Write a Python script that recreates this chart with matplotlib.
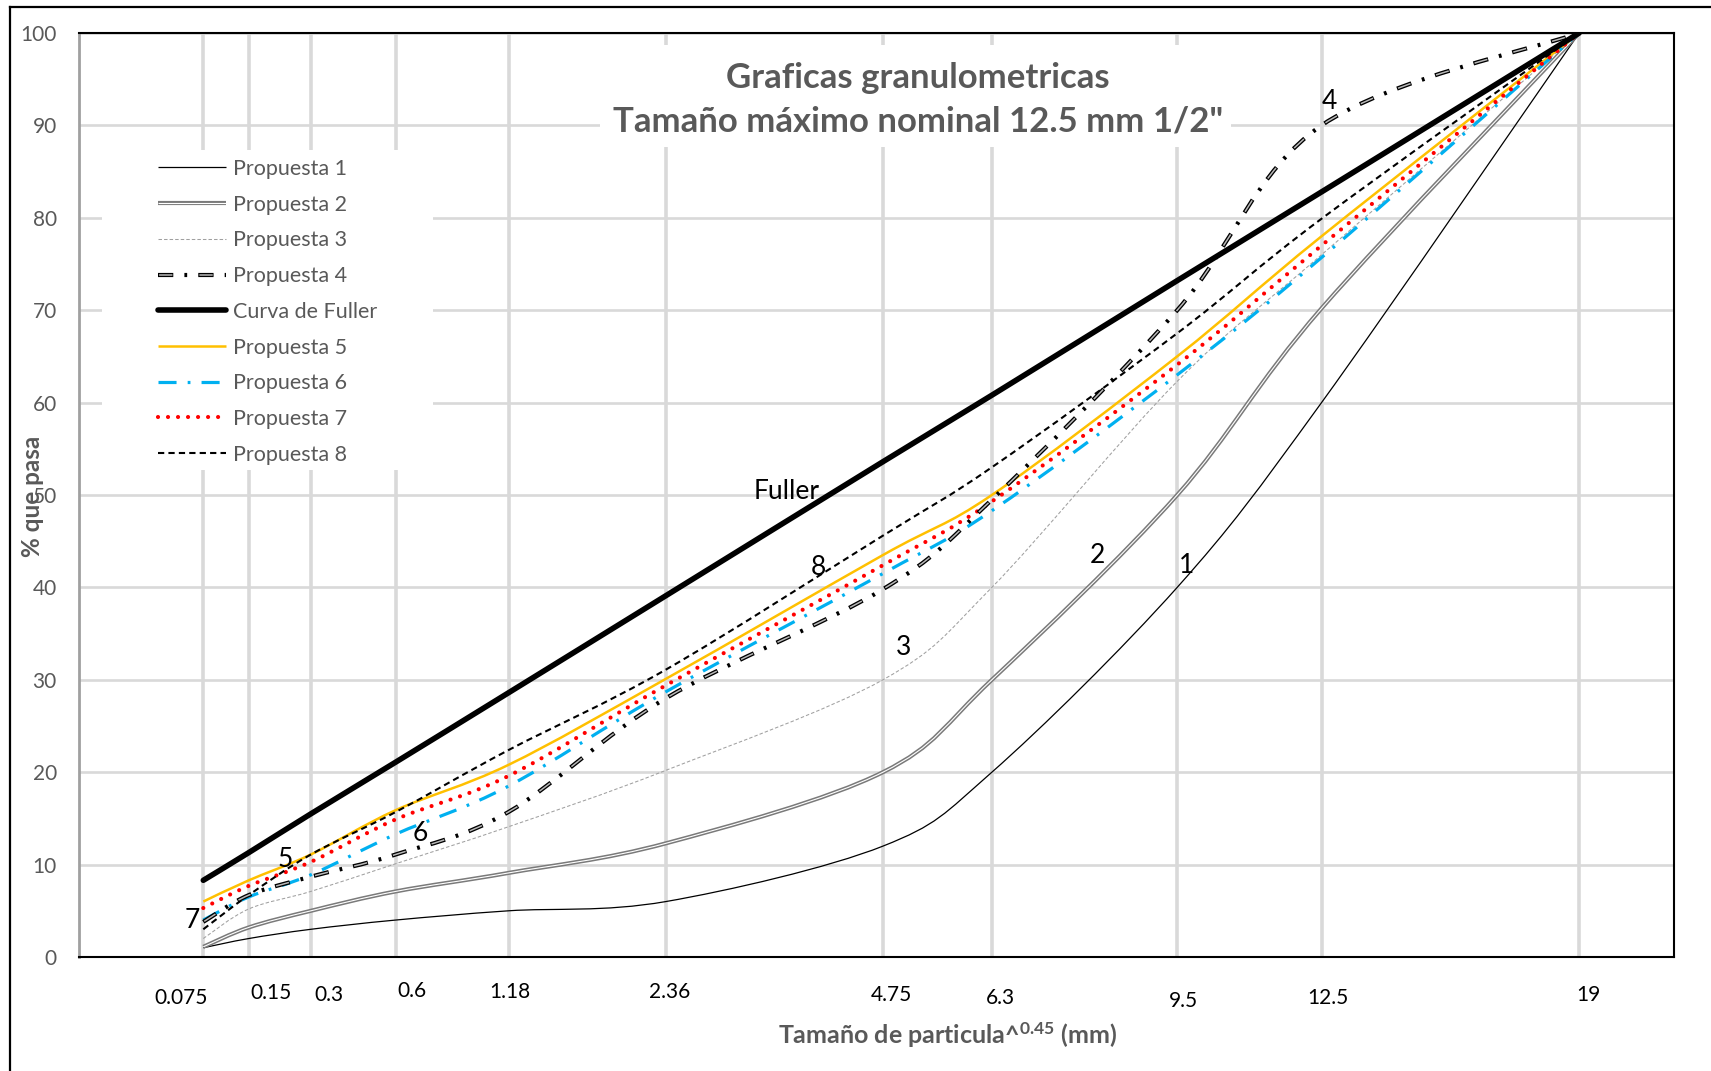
import numpy as np
import matplotlib
matplotlib.use("Agg")
import matplotlib.pyplot as plt
from matplotlib.path import Path
from matplotlib.patches import PathPatch, Rectangle
from matplotlib.lines import Line2D
import matplotlib.patheffects as pe

plt.rcParams['font.family'] = ['Lato', 'DejaVu Sans']
plt.rcParams['lines.scale_dashes'] = False

# abertura de tamices (mm) y sus etiquetas
tamices = [0.075, 0.15, 0.3, 0.6, 1.18, 2.36, 4.75, 6.3, 9.5, 12.5, 19]
tamiz_labels = ["0.075", "0.15", "0.3", "0.6", "1.18", "2.36", "4.75", "6.3", "9.5", "12.5", "19"]

# % que pasa de cada propuesta
propuesta_1 = [1.0, 2.0, 3.0, 4.0, 5.0, 6.0, 12.0, 20.0, 40.0, 60.0, 100]
propuesta_2 = [1.1, 3.2, 5.0, 7.1, 9.1, 12.3, 20.0, 30.0, 50.0, 70.2, 100]
propuesta_3 = [2.0, 5.2, 7.1, 10.1, 14.1, 20.2, 30.0, 40.0, 62.3, 76.0, 100]
propuesta_4 = [3.8, 6.7, 8.7, 11.1, 15.7, 28.0, 39.8, 49.5, 70.0, 90.0, 100]
fuller = [8.3, 11.3, 15.5, 21.1, 28.6, 39.1, 53.6, 60.8, 73.2, 82.8, 100]
propuesta_5 = [6.0, 8.3, 11.1, 15.9, 20.8, 30.1, 43.5, 50.0, 65.0, 78.0, 100]
propuesta_6 = [4.0, 6.5, 8.9, 13.3, 18.5, 28.7, 41.5, 48.3, 63.0, 75.7, 100]
propuesta_7 = [5.3, 7.7, 10.3, 14.9, 19.6, 29.4, 42.4, 49.3, 64.1, 77.0, 100]
propuesta_8 = [3.0, 6.7, 11.1, 15.7, 22.4, 31.1, 45.6, 53.0, 67.5, 79.9, 100]

# etiquetas sobre las curvas (x en mm^0.45, y en %)
rotulos = ["Fuller", "8", "3", "2", "1", "4", "5", "6", "7"]
rotulos_x = [1.774, 1.854, 2.067, 2.555, 2.777, 3.135, 0.517, 0.857, 0.285]
rotulos_y = [50.4, 42.2, 33.5, 43.5, 42.4, 92.6, 10.6, 13.4, 4.0]

# corrimiento de las etiquetas del eje x (px)
ajuste_x_px = [-22, 22, 18, 16, 1, 4, 8, 9, 6, 6, 9]
ajuste_y_px = [41, 36, 38, 34, 35, 35, 38, 41, 44, 41, 38]

GRIS = '#595959'
PX = 72 / 100  # puntos por pixel


def ruta_suave(x, y):
    # curva suavizada tipo Excel (bezier)
    pts = np.column_stack([x, y])
    n = len(pts)
    verts = [pts[0]]
    codes = [Path.MOVETO]
    for i in range(n - 1):
        p0 = pts[max(i - 1, 0)]
        p1 = pts[i]
        p2 = pts[i + 1]
        p3 = pts[min(i + 2, n - 1)]
        verts += [p1 + (p2 - p0) / 6, p2 - (p3 - p1) / 6, p2]
        codes += [Path.CURVE4] * 3
    return Path(verts, codes)


x = np.array(tamices) ** 0.45

fig = plt.figure(figsize=(17.11, 10.71), dpi=100)
ax = fig.add_axes([79 / 1711, 1 - 957 / 1071, 1595 / 1711, 924 / 1071])
ax.set_xlim(0, 4)
ax.set_ylim(0, 100)

estilos = {
    'p1': dict(edgecolor='black', lw=0.9),
    'p2': dict(edgecolor='white', lw=0.8,
               path_effects=[pe.Stroke(linewidth=3.0, foreground='#7a7a7a'), pe.Normal()]),
    'p3': dict(edgecolor='#a0a0a0', lw=0.75, linestyle=(0, (2.5, 1.5))),
    'p4a': dict(edgecolor='black', lw=3.0, linestyle=(0, (11, 8, 2, 8)), capstyle='butt'),
    'p4b': dict(edgecolor='#b8b8b8', lw=1.1, linestyle=(28.2, (9.6, 19.4)), capstyle='butt'),
    'fuller': dict(edgecolor='black', lw=4.0, capstyle='round'),
    'p5': dict(edgecolor='#FFC000', lw=1.8),
    'p6': dict(edgecolor='#00B0F0', lw=2.3, linestyle=(0, (13, 8, 2, 8)), capstyle='butt'),
    'p7': dict(edgecolor='#FF0000', lw=3.0, linestyle=(0, (0.01, 7.2)), capstyle='round'),
    'p8': dict(edgecolor='black', lw=1.5, linestyle=(0, (4.5, 3))),
}

series = [
    (propuesta_1, ['p1']),
    (propuesta_2, ['p2']),
    (propuesta_3, ['p3']),
    (propuesta_5, ['p5']),
    (propuesta_6, ['p6']),
    (propuesta_7, ['p7']),
    (propuesta_8, ['p8']),
    (propuesta_4, ['p4a', 'p4b']),
    (fuller, ['fuller']),
]
for valores, claves in series:
    ruta = ruta_suave(x, np.array(valores, dtype=float))
    for k in claves:
        ax.add_patch(PathPatch(ruta, fill=False, zorder=2, **estilos[k]))

# rejilla
ax.set_xticks(x)
ax.set_xticklabels([])
ax.set_yticks(np.arange(0, 101, 10))
ax.set_axisbelow(True)
ax.xaxis.grid(True, color='#d9d9d9', lw=2.6)
ax.yaxis.grid(True, color='#d9d9d9', lw=1.9)
ax.tick_params(axis='both', length=0)
ax.tick_params(axis='y', labelsize=15, labelcolor=GRIS, pad=16)

for s in ['top', 'right', 'bottom']:
    ax.spines[s].set_color('black')
    ax.spines[s].set_linewidth(1.5)
ax.spines['left'].set_color('#a0a0a0')
ax.spines['left'].set_linewidth(2)

# cajas blancas de leyenda y titulo
ax.add_patch(Rectangle((0.0144, 0.527), 0.2075, 0.3463, transform=ax.transAxes,
                       facecolor='white', edgecolor='none', zorder=0.8))
ax.add_patch(Rectangle((0.3266, 0.8766), 0.3956, 0.1104, transform=ax.transAxes,
                       facecolor='white', edgecolor='none', zorder=0.8))

# etiquetas del eje x
for xi, lab, dx, dy in zip(x, tamiz_labels, ajuste_x_px, ajuste_y_px):
    ax.annotate(lab, xy=(xi, 0), xycoords=('data', 'axes fraction'),
                xytext=(dx * PX, -dy * PX), textcoords='offset points',
                ha='center', va='center', fontsize=15, color='black',
                annotation_clip=False)

# rotulos de curvas
for t, rx, ry in zip(rotulos, rotulos_x, rotulos_y):
    ax.text(rx, ry, t, ha='center', va='center', fontsize=19, color='black', zorder=3)

# titulo
ax.text(0.5262, 0.9517, "Graficas granulometricas", transform=ax.transAxes,
        ha='center', va='center', fontsize=25, fontweight='bold', color=GRIS, zorder=3)
ax.text(0.5262, 0.9040, "Tamaño máximo nominal 12.5 mm 1/2\"", transform=ax.transAxes,
        ha='center', va='center', fontsize=25, fontweight='bold', color=GRIS, zorder=3)

# ejes
fig.text(33 / 1711, 1 - 496 / 1071, "% que pasa", rotation=90, ha='center', va='center',
         fontsize=17.5, fontweight='bold', color=GRIS)
fig.text(948 / 1711, 1 - 1035 / 1071, r"Tamaño de particula^$\mathregular{^{0.45}}$ (mm)",
         ha='center', va='center', fontsize=18, fontweight='bold', color=GRIS)


# leyenda
def proxy(k):
    e = dict(estilos[k])
    color = e.pop('edgecolor')
    lw = e.pop('lw')
    ls = e.pop('linestyle', '-')
    cap = e.pop('capstyle', 'butt')
    l = Line2D([], [], color=color, lw=lw, linestyle=ls,
               path_effects=e.get('path_effects'))
    l.set_dash_capstyle(cap)
    l.set_solid_capstyle(cap)
    return l


handles = [proxy('p1'), proxy('p2'), proxy('p3'), (proxy('p4a'), proxy('p4b')),
           proxy('fuller'), proxy('p5'), proxy('p6'), proxy('p7'), proxy('p8')]
labels = ["Propuesta 1", "Propuesta 2", "Propuesta 3", "Propuesta 4", "Curva de Fuller",
          "Propuesta 5", "Propuesta 6", "Propuesta 7", "Propuesta 8"]
leg = fig.legend(handles, labels, loc='upper left', bbox_to_anchor=(158 / 1711, 1 - 159 / 1071),
                 frameon=False, fontsize=15.5, handlelength=3.15, handletextpad=0.32,
                 labelspacing=0.73, borderpad=0, borderaxespad=0, labelcolor=GRIS)

# marco exterior
fig.add_artist(Line2D([10 / 1711, 1], [1 - 7 / 1071] * 2, transform=fig.transFigure,
                      color='black', lw=1.6))
fig.add_artist(Line2D([10 / 1711] * 2, [0, 1 - 7 / 1071], transform=fig.transFigure,
                      color='black', lw=1.6))

fig.savefig("out.png", dpi=100)
